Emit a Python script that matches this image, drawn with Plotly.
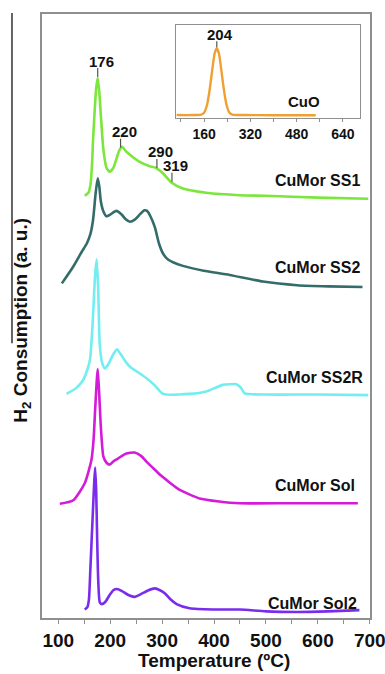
import numpy as np
import plotly.graph_objects as go

# ---- H2-TPR profiles (temperature in ºC, signal in a.u., stacked with offsets) ----
ss1_T = [151, 158, 162, 165, 167, 170, 173, 176, 179, 182, 187, 193, 199, 206, 212, 218, 223,
         230, 238, 257, 276, 286, 302, 318, 340, 385, 449, 500, 600, 697]
ss1_y = [69.9, 70.4, 71.7, 75.0, 79.1, 83.8, 87.7, 89.4, 87.1, 83.3, 77.5, 74.5, 73.9, 74.5, 76.0,
         77.5, 78.0, 77.3, 76.7, 75.5, 74.8, 74.6, 73.6, 72.1, 71.1, 70.4, 70.0, 69.9, 69.6, 69.4]

ss2_T = [107, 129, 145, 155, 162, 167, 172, 176, 179, 182, 187, 193, 200, 212, 222, 230, 238, 248,
         258, 266, 271, 277, 286, 294, 302, 312, 321, 340, 380, 430, 494, 560, 620, 686]
ss2_y = [55.4, 58.2, 60.6, 62.0, 63.6, 65.9, 70.3, 72.8, 71.5, 69.0, 67.3, 66.5, 66.8, 67.4, 66.8,
         66.0, 65.6, 66.0, 66.9, 67.5, 67.4, 66.6, 64.7, 62.0, 60.3, 59.3, 58.9, 58.3, 57.5, 56.8,
         55.7, 55.1, 54.9, 54.8]

ss2r_T = [116, 135, 148, 156, 161, 165, 168, 171, 174, 177, 180, 185, 190, 197, 205, 213, 220, 230,
          238, 255, 270, 285, 302, 353, 385, 405, 417, 430, 443, 451, 459, 500, 600, 697]
ss2r_y = [37.1, 38.1, 39.4, 41.1, 42.7, 46.9, 51.8, 56.8, 59.4, 54.3, 45.2, 42.1, 41.3, 42.1, 43.5,
          44.5, 43.7, 42.4, 41.6, 40.6, 39.7, 38.6, 37.1, 37.1, 37.5, 38.2, 38.6, 38.7, 38.7, 38.2,
          37.2, 37.0, 37.0, 36.9]

sol_T = [103, 129, 151, 160, 164, 168, 171, 174, 176, 179, 182, 187, 193, 199, 207, 215, 230, 247,
         260, 270, 283, 296, 315, 334, 372, 410, 449, 550, 677]
sol_y = [18.9, 19.5, 22.3, 24.8, 26.2, 29.5, 34.4, 39.1, 41.2, 36.9, 31.7, 26.7, 25.7, 25.4, 26.0,
         26.4, 27.2, 27.4, 26.8, 25.9, 24.8, 23.7, 22.4, 21.2, 19.8, 19.3, 19.0, 19.0, 19.0]

sol2_T = [151, 156, 159, 162, 166, 169, 171, 173, 175, 177, 180, 184, 190, 199, 206, 213, 222, 235,
          247, 260, 274, 286, 296, 305, 316, 328, 353, 400, 450, 500, 560, 620, 680]
sol2_y = [1.4, 1.8, 3.0, 8.4, 16.2, 22.0, 24.9, 21.2, 12.9, 6.3, 2.6, 2.3, 2.6, 3.8, 4.6, 4.8, 4.5,
          3.8, 3.5, 4.0, 4.6, 4.9, 4.6, 4.1, 3.1, 2.3, 1.6, 1.4, 1.4, 1.1, 1.0, 1.1, 1.3]

# CuO reference profile (inset)
cuo_T = [65, 120, 150, 160, 170, 180, 190, 197, 204, 211, 218, 228, 238, 248, 258, 300, 400, 546]
cuo_y = [3.5, 3.5, 4.0, 6.0, 14, 32, 56, 70, 75, 70, 56, 32, 14, 6, 4.0, 3.5, 3.3, 3.3]

series_names = ["CuMor SS1", "CuMor SS2", "CuMor SS2R", "CuMor Sol", "CuMor Sol2"]
series_T = [ss1_T, ss2_T, ss2r_T, sol_T, sol2_T]
series_y = [ss1_y, ss2_y, ss2r_y, sol_y, sol2_y]
series_colors = ["#7BE63C", "#346C69", "#72EEF0", "#D41CD8", "#7A2CEC"]

# curve labels placed at the right end of each profile: (x of right edge, y)
label_x = [685, 685, 690, 676, 680]
label_y = [72.4, 58.1, 39.9, 21.9, 2.4]

# peak maxima marked on CuMor SS1 and CuO
ss1_peaks = [176, 220, 290, 319]
cuo_peaks = [204]

x_ticks = [100, 200, 300, 400, 500, 600, 700]
inset_ticks = [160, 320, 480, 640]

FONT = "Liberation Sans, Arial, sans-serif"
FRAME = "#8f8f8f"
INK = "#111111"

fig = go.Figure()

for name, T, y, c in zip(series_names, series_T, series_y, series_colors):
    fig.add_trace(go.Scatter(x=T, y=y, mode="lines", name=name,
                             line=dict(color=c, width=2.6, shape="spline", smoothing=0.6),
                             xaxis="x", yaxis="y", showlegend=False))

fig.add_trace(go.Scatter(x=cuo_T, y=cuo_y, mode="lines", name="CuO",
                         line=dict(color="#EFA030", width=2.4, shape="spline", smoothing=0.6),
                         xaxis="x2", yaxis="y2", showlegend=False))

annotations = []
shapes = []

for name, lx, ly in zip(series_names, label_x, label_y):
    annotations.append(dict(x=lx, y=ly, xref="x", yref="y", text=f"<b>{name}</b>",
                            showarrow=False, xanchor="right", yanchor="middle",
                            font=dict(family=FONT, size=16, color=INK)))

# peak markers: short vertical tick above the curve + temperature label
for p in ss1_peaks:
    yp = float(np.interp(p, ss1_T, ss1_y))
    shapes.append(dict(type="line", xref="x", yref="y", x0=p, x1=p,
                       ysizemode="pixel", yanchor=yp, y0=1, y1=10,
                       line=dict(color="#555555", width=1.2)))
    annotations.append(dict(x=p, y=yp, xref="x", yref="y", text=f"<b>{p}</b>",
                            showarrow=False, xanchor="center", yanchor="middle",
                            xshift=4, yshift=17,
                            font=dict(family=FONT, size=15, color=INK)))

for p in cuo_peaks:
    yp = float(np.interp(p, cuo_T, cuo_y))
    shapes.append(dict(type="line", xref="x2", yref="y2", x0=p, x1=p,
                       ysizemode="pixel", yanchor=yp, y0=1, y1=7,
                       line=dict(color="#555555", width=1.2)))
    annotations.append(dict(x=p, y=yp, xref="x2", yref="y2", text=f"<b>{p}</b>",
                            showarrow=False, xanchor="center", yanchor="middle",
                            xshift=3, yshift=14,
                            font=dict(family=FONT, size=15, color=INK)))

annotations.append(dict(x=566, y=17.8, xref="x2", yref="y2", text="<b>CuO</b>",
                        showarrow=False, xanchor="right", yanchor="middle",
                        font=dict(family=FONT, size=15, color=INK)))

# axis titles
annotations.append(dict(x=0.524, y=-0.0906, xref="paper", yref="paper",
                        text="<b>Temperature (ºC)</b>", showarrow=False,
                        xanchor="center", yanchor="bottom",
                        font=dict(family=FONT, size=19, color=INK)))
annotations.append(dict(x=-0.0595, y=0.493, xref="paper", yref="paper",
                        text="<b>H<sub>2</sub> Consumption (a. u.)</b>", showarrow=False,
                        textangle=-90, xanchor="center", yanchor="middle",
                        font=dict(family=FONT, size=19, color=INK)))

# thin rule beside the y title
shapes.append(dict(type="line", xref="paper", yref="paper", x0=-0.0915, x1=-0.0915,
                   y0=0.455, y1=1.0017, line=dict(color="#222222", width=1.4)))

fig.update_layout(
    width=385, height=674, autosize=False,
    margin=dict(l=42, r=15, t=14, b=56, autoexpand=False),
    paper_bgcolor="white", plot_bgcolor="white",
    annotations=annotations, shapes=shapes,
    xaxis=dict(range=[68.7, 700.4], tickvals=x_ticks, ticks="outside", ticklen=4,
               tickwidth=1, tickcolor=FRAME, ticklabeloverflow="allow", automargin=False,
               minor=dict(dtick=50, tick0=0, ticks="outside", ticklen=4, tickcolor=FRAME),
               showline=True, linecolor=FRAME, linewidth=1.5, mirror=True,
               showgrid=False, zeroline=False,
               tickfont=dict(family=FONT, size=19, color=INK, weight="bold")),
    yaxis=dict(range=[0, 100], showticklabels=False, ticks="", automargin=False,
               showline=True, linecolor=FRAME, linewidth=1.5, mirror=True,
               showgrid=False, zeroline=False),
    xaxis2=dict(domain=[0.4085, 0.9695], anchor="y2", range=[63, 699],
                tickvals=inset_ticks, ticks="outside", ticklen=3, tickcolor=FRAME,
                automargin=False,
                minor=dict(dtick=80, tick0=0, ticks="outside", ticklen=3, tickcolor=FRAME),
                showline=True, linecolor=FRAME, linewidth=1.3, mirror=True,
                showgrid=False, zeroline=False,
                tickfont=dict(family=FONT, size=14, color=INK, weight="bold")),
    yaxis2=dict(domain=[0.8273, 0.9818], anchor="x2", range=[0, 100],
                showticklabels=False, ticks="", automargin=False,
                showline=True, linecolor=FRAME, linewidth=1.3, mirror=True,
                showgrid=False, zeroline=False),
)

fig.write_html("out.html")
